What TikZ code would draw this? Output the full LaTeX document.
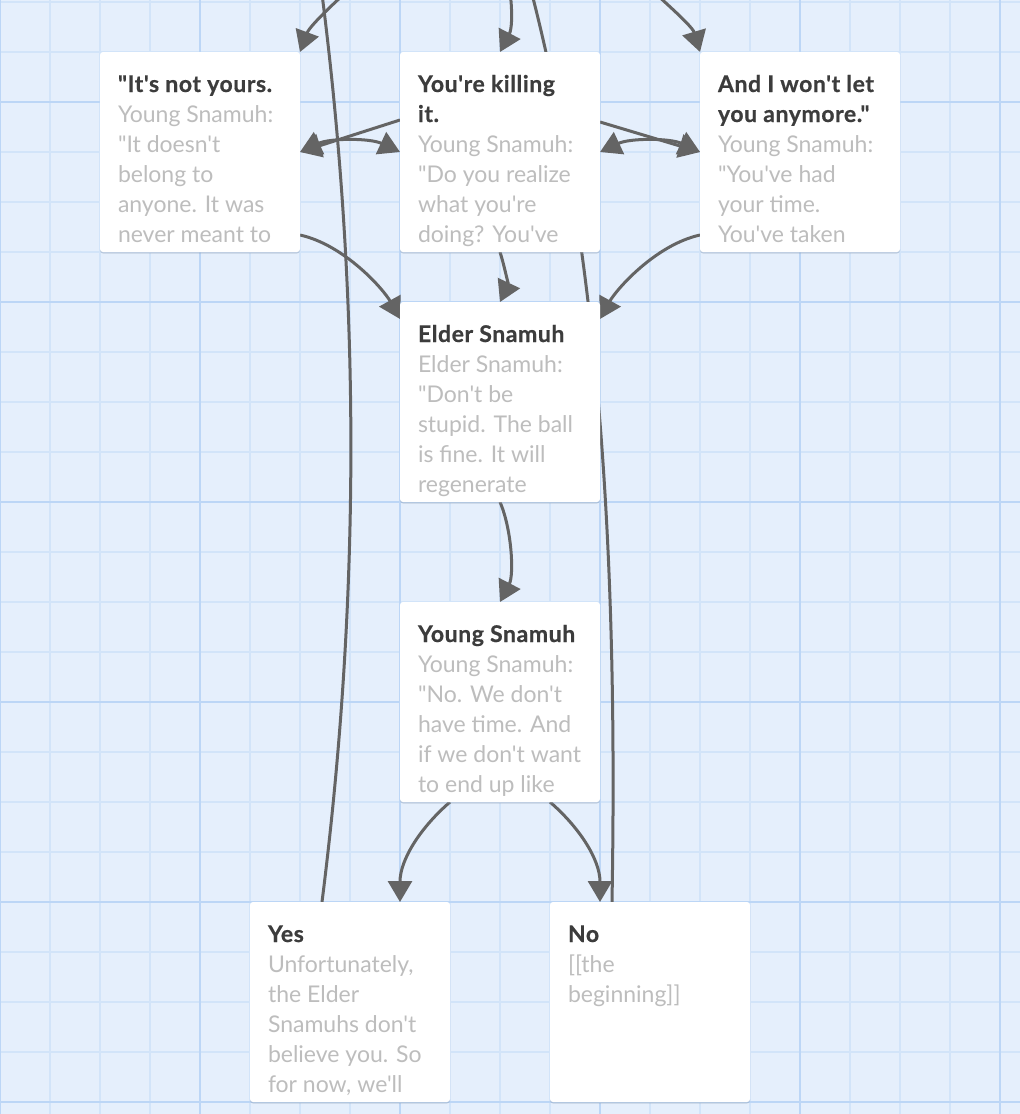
\documentclass[tikz,border=0pt]{standalone}
\usepackage{fontspec}
\setmainfont{Lato}[Ligatures=TeXOff, BoldFeatures={FakeBold=0.6, LetterSpace=2.5}]
\usetikzlibrary{positioning, arrows.meta, shadows, backgrounds}
\definecolor{paper}{HTML}{E5EFFC}
\definecolor{gridminor}{HTML}{D2E4F9}
\definecolor{gridmajor}{HTML}{BCD6F6}
\definecolor{titlegrey}{HTML}{3C3C3C}
\definecolor{bodygrey}{HTML}{BDBDBD}
\definecolor{linkgrey}{HTML}{646464}
\tikzstyle{card} = [rectangle, rounded corners=3pt, fill=white, inner xsep=18pt, inner ysep=0pt, outer sep=0pt, minimum width=200pt, minimum height=200pt, drop shadow={shadow xshift=0pt, shadow yshift=-1.5pt, opacity=0.35, fill=gridmajor!70!black}]
\tikzstyle{minorline} = [line width=1.5pt, draw=gridminor]
\tikzstyle{majorline} = [line width=2pt, draw=gridmajor]
\tikzstyle{trail} = [line width=3pt, draw=linkgrey]
\tikzstyle{link} = [trail, -{Triangle[length=21pt,width=24pt]}]
\tikzstyle{twoway} = [trail, {Triangle[length=21pt,width=24pt]}-{Triangle[length=21pt,width=24pt]}]
\newcommand{\passage}[2]{\parbox[c][200pt][t]{164pt}{\raggedright\rule{0pt}{40pt}\textbf{\color{titlegrey}#1}\\\color{bodygrey}#2}}

\begin{document}
\begin{tikzpicture}[x=1pt, y=-1pt, node distance=100pt, font=\fontsize{23pt}{30pt}\selectfont]
\useasboundingbox (0,0) rectangle (1020,1114);
\node (killing) [card] at (500,152) {\passage{You're killing\\it.}{Young Snamuh:\\"Do you realize\\what you're\\doing? You've}};
\node (notyours) [card, left=of killing] {\passage{"It's not yours.}{Young Snamuh:\\"It doesn't\\belong to\\anyone. It was\\never meant to}};
\node (wontlet) [card, right=of killing] {\passage{And I won't let\\you anymore."}{Young Snamuh:\\"You've had\\your time.\\You've taken}};
\node (elder) [card, below=50pt of killing] {\passage{Elder Snamuh}{Elder Snamuh:\\"Don't be\\stupid. The ball\\is fine. It will\\regenerate}};
\node (young) [card, below=of elder] {\passage{Young Snamuh}{Young Snamuh:\\"No. We don't\\have time. And\\if we don't want\\to end up like}};
\node (yes) [card, below=of young, xshift=-150pt] {\passage{Yes}{Unfortunately,\\the Elder\\Snamuhs don't\\believe you. So\\for now, we'll}};
\node (no) [card, below=of young, xshift=150pt] {\passage{No}{[[the\\beginning]]}};

\begin{pgfonlayer}{background}
\clip (0,0) rectangle (1020,1114);
\fill[paper] (0,0) rectangle (1020,1114);
\foreach \x in {0,50,...,1000} \draw[minorline] (\x,0) -- (\x,1114);
\foreach \y in {2,52,...,1102} \draw[minorline] (0,\y) -- (1020,\y);
\foreach \x in {0,200,...,1000} \draw[majorline] (\x,0) -- (\x,1114);
\foreach \y in {102,302,...,1102} \draw[majorline] (0,\y) -- (1020,\y);

% links coming in from passages above the view
\coordinate (up1) at (372,-30);
\coordinate (up2) at (500,-48);
\coordinate (up3) at (630,-30);
\coordinate (exityes) at (322,-6);
\coordinate (exitno) at (532,-6);
\draw[link] (up1) .. controls (345,-8) and (310,25) .. (notyours.north east);
\draw[link] (up2) .. controls (512,-20) and (514,25) .. (killing.north);
\draw[link] (up3) .. controls (653,-8) and (692,25) .. (wontlet.north west);
\draw[trail] ([xshift=-28pt]yes.north) .. controls (360,601) and (361,301) .. (exityes);
\draw[trail] ([xshift=-38pt]no.north) .. controls (618,560) and (600,260) .. (exitno);

% top row
\draw[link] ([yshift=32pt]killing.west) -- (notyours.east);
\draw[twoway] (notyours.east) .. controls +(30,-14) and +(-30,-14) .. (killing.west);
\draw[link] ([yshift=30pt]killing.east) -- (wontlet.west);
\draw[twoway] (killing.east) .. controls +(30,-14) and +(-30,-14) .. (wontlet.west);

% down the middle
\draw[link] ([yshift=17pt]notyours.south east) .. controls +(45,10) and +(-16,-29) .. ([yshift=-17pt]elder.north west);
\draw[link] ([yshift=17pt]wontlet.south west) .. controls +(-45,10) and +(16,-29) .. ([yshift=-17pt]elder.north east);
\draw[link] (killing.south) .. controls +(5,16) and +(8,-17) .. (elder.north);
\draw[link] (elder.south) .. controls +(12,28) and +(14,-27) .. (young.north);
\draw[link] ([xshift=-50pt]young.south) .. controls +(-30,26) and +(0,-42) .. ([xshift=50pt]yes.north);
\draw[link] ([xshift=50pt]young.south) .. controls +(30,26) and +(0,-42) .. ([xshift=-50pt]no.north);
\end{pgfonlayer}
\end{tikzpicture}
\end{document}
